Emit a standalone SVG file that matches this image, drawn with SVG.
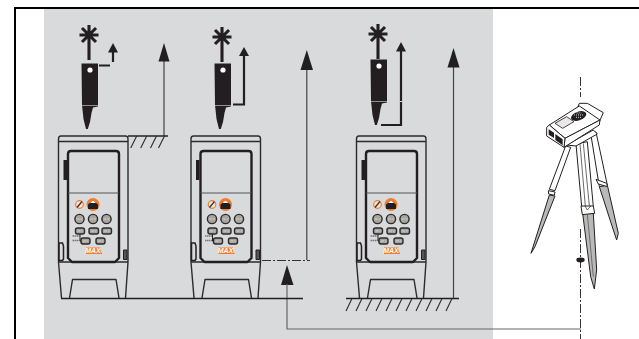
<svg xmlns="http://www.w3.org/2000/svg" xmlns:xlink="http://www.w3.org/1999/xlink" width="639" height="339" viewBox="0 0 639 339">
<style>
.o{fill:none;stroke:#2b2a2c;stroke-width:1.4;stroke-linejoin:round}
.s{fill:none;stroke:#231f20;stroke-width:2.4;stroke-linejoin:round}
.b{fill:#a8a59e;stroke:#2b2a2c;stroke-width:1.4}
.k{fill:#231f20;stroke:none}
.m{fill:none;stroke:#d4d2cc;stroke-width:1;stroke-dasharray:3 1}
.a{fill:none;stroke:#231f20;stroke-width:2.2}
.g{fill:none;stroke:#231f20;stroke-width:1.5}
.h{fill:none;stroke:#2b2a2c;stroke-width:1.1}
.c{fill:none;stroke:#444;stroke-width:1.2}
.d{fill:none;stroke:#333;stroke-width:1;stroke-dasharray:9 2 2 2}
.l{fill:#fff;stroke:#231f20;stroke-width:3;stroke-linejoin:round}
.y{fill:#b9b9b7;stroke:#231f20;stroke-width:3;stroke-linejoin:round}
</style>
<defs>
<g id="device">
<path class="o" d="M58.500 262V139Q58.500 136 61 136H125.500Q128 136 128 139V262M58.500 141.500H128M58.500 262H128M58.500 262L61.500 298M128 262L125.500 298M69.500 298L72.500 279.500H116L119 298"/>
<path class="s" d="M68 258V154Q68 151 71 151H116Q119 151 119 154V258L115 262H72Z"/>
<path class="k" d="M63.500 160H67V180H63.500Z"/>
<path d="M68 193H119" stroke="#555" stroke-width="1.200"/>
<path d="M59 243H62.500L63.500 246V259L62.500 260.500H59Z" fill="none" stroke="#231f20" stroke-width="1.500"/>
<path d="M123.500 250H127V259.500H123.500Z" fill="#55545a" stroke="#231f20"/>
<circle cx="79.500" cy="204.500" r="3.800" fill="#f4e6da" stroke="#ef7d2d" stroke-width="1.200"/>
<path d="M77 207.500L82 201.500" stroke="#333" stroke-width="1.300"/>
<circle cx="93" cy="204.500" r="6.500" fill="#ef7d2d"/>
<path class="k" d="M88 209V204.500L93 200.500L98 204.500V209Z"/>
<path d="M90 203L93 200.500L96 203Z" fill="#fff"/>
<circle class="b" cx="79.500" cy="219" r="4.600"/>
<circle class="b" cx="93" cy="219" r="4.600"/>
<circle class="b" cx="106.500" cy="219" r="4.600"/>
<rect class="b" x="75.500" y="228" width="9" height="6" rx="2"/>
<rect class="b" x="89" y="228" width="9.500" height="6" rx="2"/>
<rect class="b" x="102" y="228" width="9.500" height="6" rx="2"/>
<rect class="b" x="81" y="238" width="9" height="6" rx="2"/>
<rect class="b" x="96" y="238" width="9" height="6" rx="2"/>
<path class="m" d="M76.500 219H82.500M90 219H96M103.500 219H109.500M77.500 231H82.500M91 231H96.500M104 231H109.500M83 241H88M98 241H103"/>
<path d="M72.500 236H79.500M72.500 240.500H79.500" stroke="#77767a" stroke-width="1.500" stroke-dasharray="1.500 .5"/>
<path d="M80 234V241H81" stroke="#231f20" fill="none"/>
<rect x="86" y="247.500" width="14.500" height="6.500" fill="#ef7d2d"/>
<rect x="100" y="252.500" width="2" height="1.500" fill="#ef7d2d"/>
<text x="93" y="253.300" font-family="Liberation Sans, Arial, sans-serif" font-size="7" font-weight="700" font-style="italic" fill="#fff" text-anchor="middle">MAX</text>
</g>
<g id="pen">
<path class="k" d="M81.500 63.500H98V106.500L93 107.500L91.500 113L90 122L87.800 129H86L83.500 119L82 105Z"/>
<circle cx="90" cy="70" r="2.600" fill="#fff"/>
<path d="M82 105.500H98" stroke="#d9dadc" stroke-width=".6"/>
</g>
<g id="star">
<path d="M0 -10V25M-9.500 0H9.500M-7 -7L7 7M-7 7L7 -7" fill="none" stroke="#231f20" stroke-width="3.100"/>
</g>
</defs>
<rect id="panel" x="44" y="9" width="449" height="330" fill="#d9dadc"/>
<path id="frame" d="M639 8H15V339" fill="none" stroke="#000" stroke-width="2"/>
<g id="device-1"><use xlink:href="#device"/></g>
<g id="device-2"><use xlink:href="#device" x="132.500"/></g>
<g id="device-3"><use xlink:href="#device" x="298"/></g>
<g id="laser-1"><use xlink:href="#pen"/><use xlink:href="#star" x="89" y="35"/></g>
<g id="laser-2"><use xlink:href="#pen" x="133"/><use xlink:href="#star" x="222" y="37"/></g>
<g id="laser-3"><use xlink:href="#pen" x="289" y="-4"/><use xlink:href="#star" x="378" y="34"/></g>
<g id="connectors">
<path class="a" d="M99 65.500H110M113 62V51"/>
<path class="k" d="M113 43L118 52.500H108Z"/>
<path class="c" d="M164 136V60"/>
<path class="k" d="M164 43L169.500 61.500H158.500Z"/>
<path class="a" d="M233 104.500H244V54"/>
<path class="k" d="M244 47L249 56H239Z"/>
<path class="c" d="M306.800 260V69"/>
<path class="k" d="M306.800 50L313 70H300.500Z"/>
<path class="d" d="M262 260.500H310"/>
<path class="k" d="M287 265L293.500 285H281Z"/>
<path d="M287 284V329H581" fill="none" stroke="#666" stroke-width="1.200"/>
<path class="a" d="M381 125H401V50"/>
<path d="M400 101.500H402" stroke="#d9dadc"/>
<path class="k" d="M401 42L406 51.500H396Z"/>
<path class="c" d="M453.500 298V66"/>
<path class="k" d="M453.500 48L459.500 67.500H447.500Z"/>
<path class="d" d="M580.500 77V97M580.500 229V339"/>
<ellipse class="k" cx="580.500" cy="260" rx="4.200" ry="2.400"/>
</g>
<g id="ground-1">
<path class="g" d="M128 136H168"/>
<path class="h" d="M136.700 136L130.700 148M146.700 136L140.700 148M156.500 136L150.500 148M164.500 136L158.500 148"/>
</g>
<g id="ground-2"><path d="M61 298.500H303" fill="none" stroke="#231f20" stroke-width="1.600"/></g>
<g id="ground-3">
<path class="g" d="M346 298.500H459"/>
<path class="h" d="M352 298.500L346 311M362 298.500L356 311M372 298.500L366 311M382 298.500L376 311M392 298.500L386 311M402 298.500L396 311M412 298.500L406 311M422 298.500L416 311M432 298.500L426 311M442 298.500L436 311M452 298.500L446 311"/>
</g>
<g id="tripod" transform="translate(500 70) scale(.3333)">
<path class="y" d="M298 350L322 345L355 490L350 510L340 480Z"/>
<path class="l" d="M272 190L288 186L322 345L298 350Z"/>
<path class="l" d="M288 328L320 340L322 350L295 342Z"/>
<path class="y" d="M148 375L165 378L105 530L93 550Z"/>
<path class="l" d="M197 228L212 232L165 362L148 358Z"/>
<path class="l" d="M145 362L165 366L163 376L146 372Z"/>
<path class="y" d="M248 430L280 430L290 600L283 657L272 620Z"/>
<path d="M262 432L280 620" stroke="#231f20" stroke-width="1.500"/>
<path class="l" d="M228 222L262 215L280 410H245Z"/>
<path d="M240 222L256 408M250 220L268 408" stroke="#231f20" stroke-width="2" fill="none"/>
<path class="l" d="M243 408H280L284 430L247 434Z"/>
<path d="M255 408L262 420L272 408" fill="none" stroke="#231f20" stroke-width="2"/>
<path class="l" d="M200 225L280 180L292 192L228 228Z"/>
<path class="l" d="M238 100L262 100L310 128L296 160L232 115Z"/>
<path class="l" d="M148 165L238 108L300 150L195 205Z"/>
<path class="l" d="M195 205L300 150L298 165L192 232Z"/>
<path class="l" d="M140 172L148 165L195 205L192 232L140 198Z"/>
<path class="k" d="M146 178L162 188L162 204L146 194ZM166 192L188 208L188 226L166 210Z"/>
<path d="M165 160L200 140L222 155L188 175Z" fill="#e8e8e8" stroke="#231f20" stroke-width="2.500"/>
<ellipse class="k" cx="236" cy="138" rx="24" ry="13" transform="rotate(-20 236 138)"/>
<path d="M222 135H250M228 142H246M230 129H244" stroke="#fff" stroke-width="2.500" stroke-dasharray="3 3"/>
</g>
</svg>
